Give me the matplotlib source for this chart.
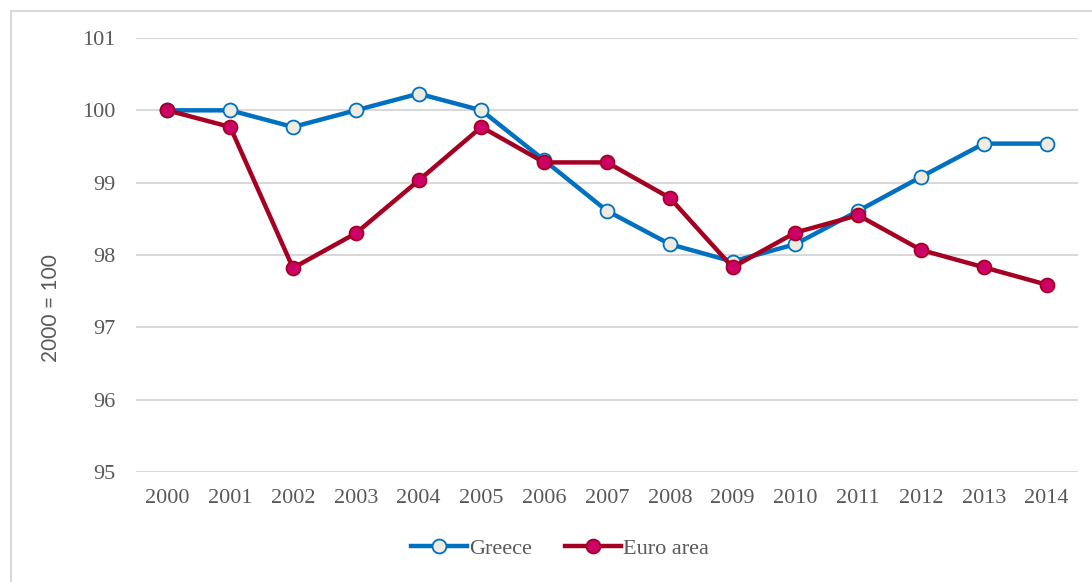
import matplotlib
matplotlib.use("Agg")
import matplotlib.pyplot as plt
from matplotlib.patches import Rectangle

years = ["2000", "2001", "2002", "2003", "2004", "2005", "2006", "2007",
         "2008", "2009", "2010", "2011", "2012", "2013", "2014"]
greece = [100.0, 100.0, 99.77, 100.0, 100.23, 100.0, 99.31, 98.61,
          98.15, 97.91, 98.15, 98.61, 99.08, 99.54, 99.54]
euro = [100.0, 99.77, 97.82, 98.30, 99.03, 99.77, 99.28, 99.28,
        98.79, 97.83, 98.31, 98.55, 98.07, 97.83, 97.59]
yticks = [95, 96, 97, 98, 99, 100, 101]

serif = ["Liberation Serif", "DejaVu Serif"]
txt = "#595959"

fig = plt.figure(figsize=(10.92, 5.82), dpi=100)
ax = fig.add_axes([136 / 1092, 1 - 472 / 582, (1078 - 136) / 1092, (472 - 38) / 582])

fig.patches.append(Rectangle((11 / 1092, -0.1), 1.2, 1 - 11 / 582 + 0.1,
                             transform=fig.transFigure, fill=False,
                             edgecolor="#D9D9D9", linewidth=1.5))

x = list(range(len(years)))
ax.plot(x, greece, color="#0070C0", linewidth=3.2, marker="o", markersize=10,
        markerfacecolor="#EEECE1", markeredgecolor="#0070C0", markeredgewidth=1.3,
        label="Greece", zorder=3)
ax.plot(x, euro, color="#A50021", linewidth=3.2, marker="o", markersize=10,
        markerfacecolor="#CC0066", markeredgecolor="#A50021", markeredgewidth=1.3,
        label="Euro area", zorder=4)

ax.set_xlim(-0.5, len(years) - 0.5)
ax.set_ylim(95, 101)
ax.set_yticks(yticks)
ax.set_yticklabels([str(v) for v in yticks], family=serif, fontsize=16, color=txt)
ax.set_xticks(x)
ax.set_xticklabels(years, family=serif, fontsize=16, color=txt)
ax.tick_params(axis="both", length=0)
ax.tick_params(axis="y", pad=15)
ax.tick_params(axis="x", pad=12)
ax.grid(axis="y", color="#D9D9D9", linewidth=1.5)
ax.set_axisbelow(True)
for s in ax.spines.values():
    s.set_visible(False)

fig.text(51 / 1092, 1 - 308 / 582, "2000 = 100", rotation=90, ha="center", va="center",
         fontsize=15, color=txt, family=["Lato", "DejaVu Sans"])

leg = fig.legend(loc="center", bbox_to_anchor=(560 / 1092, 1 - 549 / 582), ncol=2,
                 frameon=False, prop={"family": serif, "size": 16},
                 handlelength=2.5, handletextpad=0.1, columnspacing=1.5)
for t in leg.get_texts():
    t.set_color(txt)

fig.savefig("out.png", dpi=100)
